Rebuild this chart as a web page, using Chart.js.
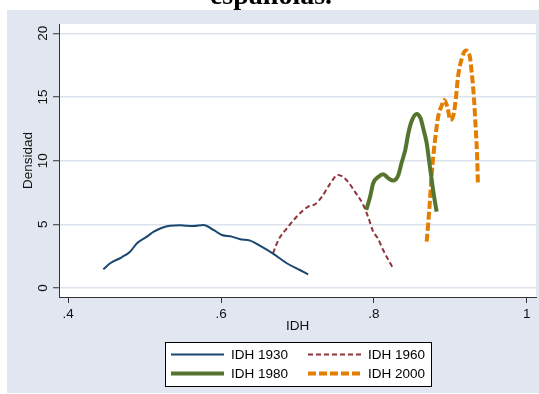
<!DOCTYPE html>
<html>
<head>
<meta charset="utf-8">
<script src="https://cdn.jsdelivr.net/npm/chart.js@4.4.1/dist/chart.umd.min.js"></script>
<style>
  body { margin: 0; background: #fff; }
  #myChart { display: block; }
</style>
</head>
<body>
<canvas id="myChart" width="539" height="394"></canvas>
<script>
// values
const idh1930x = [0.446, 0.455, 0.470, 0.481, 0.490, 0.503, 0.512, 0.522, 0.533, 0.546, 0.564, 0.577, 0.590, 0.601, 0.614, 0.625, 0.638, 0.653, 0.668, 0.686, 0.703, 0.714]
const idh1930y = [1.47, 1.94, 2.41, 2.85, 3.51, 4.03, 4.42, 4.71, 4.89, 4.92, 4.87, 4.95, 4.56, 4.16, 4.03, 3.83, 3.72, 3.24, 2.70, 1.94, 1.41, 1.07]

const idh1960x = [0.668, 0.675, 0.688, 0.701, 0.714, 0.723, 0.732, 0.743, 0.753, 0.764, 0.775, 0.786, 0.793, 0.799, 0.805, 0.812, 0.825]
const idh1960y = [2.72, 3.77, 4.82, 5.73, 6.39, 6.57, 7.17, 8.22, 8.88, 8.48, 7.57, 6.52, 5.48, 4.42, 3.90, 2.98, 1.55]

const idh1980x = [0.790, 0.795, 0.799, 0.806, 0.812, 0.819, 0.825, 0.832, 0.836, 0.841, 0.845, 0.849, 0.856, 0.861, 0.865, 0.869, 0.872, 0.875, 0.878, 0.882]
const idh1980y = [6.13, 7.17, 8.22, 8.74, 8.93, 8.61, 8.43, 8.88, 9.79, 10.84, 12.15, 13.06, 13.67, 13.33, 12.41, 11.37, 10.05, 8.74, 7.44, 5.99]

const idh2000x = [0.869, 0.871, 0.873, 0.875, 0.878, 0.881, 0.884, 0.889, 0.892, 0.896, 0.900, 0.904, 0.907, 0.910, 0.915, 0.920, 0.925, 0.928, 0.931, 0.933, 0.935, 0.936]
const idh2000y = [3.64, 5.08, 6.65, 8.48, 10.58, 12.15, 13.46, 14.38, 14.77, 14.24, 13.20, 13.59, 14.77, 16.60, 18.04, 18.64, 18.30, 16.86, 14.77, 12.67, 10.31, 8.22]

const seriesNames = ['IDH 1930', 'IDH 1960', 'IDH 1980', 'IDH 2000']
const xTicks = [0.4, 0.6, 0.8, 1]
const xTickLabels = ['.4', '.6', '.8', '1']
const yTicks = [0, 5, 10, 15, 20]
const yTickLabels = ['0', '5', '10', '15', '20']

const panelColor = '#e1e6f0'
const font = '"Liberation Sans", Arial, sans-serif'

function pts(xs, ys) {
  return xs.map((x, i) => ({ x: x, y: ys[i] }))
}

const looks = [
  { color: '#1a476f', width: 2, dash: [] },
  { color: '#90353b', width: 2, dash: [5, 3] },
  { color: '#55752f', width: 4, dash: [] },
  { color: '#e37e00', width: 4, dash: [8, 3] }
]
const allData = [pts(idh1930x, idh1930y), pts(idh1960x, idh1960y), pts(idh1980x, idh1980y), pts(idh2000x, idh2000y)]

const datasets = seriesNames.map((name, i) => ({
  label: name,
  data: allData[i],
  showLine: true,
  borderColor: looks[i].color,
  borderWidth: looks[i].width,
  borderDash: looks[i].dash,
  pointRadius: 0,
  fill: false,
  cubicInterpolationMode: 'monotone'
}))

// background panel, white plot region and the (cut-off) title
const backgroundPlugin = {
  id: 'stataBack',
  beforeDraw(chart) {
    const ctx = chart.ctx
    const a = chart.chartArea
    ctx.save()
    ctx.fillStyle = '#fff'
    ctx.fillRect(0, 0, chart.width, chart.height)
    ctx.fillStyle = panelColor
    ctx.fillRect(7, 10, chart.width - 7, chart.height - 11)
    ctx.fillStyle = '#fff'
    ctx.fillRect(a.left, a.top, a.right - a.left, a.bottom - a.top)
    ctx.fillStyle = '#000'
    ctx.font = 'bold 28px "Liberation Serif", "Times New Roman", serif'
    ctx.textAlign = 'center'
    ctx.textBaseline = 'alphabetic'
    ctx.fillText('españolas.', 271, 4)
    ctx.restore()
  }
}

// boxed legend, two columns, under the x title
const legendPlugin = {
  id: 'stataLegend',
  afterDraw(chart) {
    const ctx = chart.ctx
    const a = chart.chartArea
    const boxW = 266
    const boxH = 44
    const left = Math.round((a.left + a.right) / 2 - boxW / 2)
    const top = 342
    ctx.save()
    ctx.fillStyle = '#fff'
    ctx.fillRect(left, top, boxW, boxH)
    ctx.strokeStyle = '#000'
    ctx.lineWidth = 1
    ctx.strokeRect(left + 0.5, top + 0.5, boxW, boxH)
    ctx.font = '13.5px ' + font
    ctx.textBaseline = 'middle'
    ctx.textAlign = 'left'
    chart.data.datasets.forEach((ds, i) => {
      const col = i % 2
      const row = Math.floor(i / 2)
      const x0 = left + 6 + col * 137
      const y = top + 12.5 + row * 19
      ctx.beginPath()
      ctx.strokeStyle = ds.borderColor
      ctx.lineWidth = ds.borderWidth
      ctx.setLineDash(ds.borderDash)
      ctx.moveTo(x0, y)
      ctx.lineTo(x0 + 53, y)
      ctx.stroke()
      ctx.setLineDash([])
      ctx.fillStyle = '#000'
      ctx.fillText(ds.label, x0 + 60, y + 0.5)
    })
    ctx.restore()
  }
}

const ctx = document.getElementById('myChart')
const myChart = new Chart(ctx, {
  type: 'scatter',
  data: { datasets: datasets },
  plugins: [backgroundPlugin, legendPlugin],
  options: {
    responsive: false,
    animation: false,
    layout: { padding: { left: 7, top: 24, right: 3, bottom: 52 } },
    plugins: {
      legend: { display: false },
      tooltip: { enabled: false }
    },
    scales: {
      x: {
        type: 'linear',
        min: 0.388,
        max: 1.012,
        afterBuildTicks: (s) => { s.ticks = xTicks.map(v => ({ value: v })) },
        afterFit: (s) => { s.height = 45 },
        ticks: {
          padding: 3,
          color: '#111',
          font: { family: font, size: 13.5 },
          maxRotation: 0,
          callback: (v) => xTickLabels[xTicks.indexOf(v)]
        },
        grid: { drawOnChartArea: false, drawTicks: true, tickLength: 6, tickColor: '#333' },
        border: { color: '#333', width: 1 },
        title: { display: true, text: 'IDH', color: '#111', font: { family: font, size: 13.5 }, padding: { top: 0, bottom: 8 } }
      },
      y: {
        type: 'linear',
        min: -0.71,
        max: 20.73,
        afterBuildTicks: (s) => { s.ticks = yTicks.map(v => ({ value: v })) },
        afterFit: (s) => { s.width = 52 },
        ticks: {
          padding: 2,
          minRotation: 90,
          maxRotation: 90,
          crossAlign: 'center',
          color: '#111',
          font: { family: font, size: 13.5 },
          callback: (v) => yTickLabels[yTicks.indexOf(v)]
        },
        grid: { color: '#dde3ed', lineWidth: 1.5, drawTicks: true, tickLength: 6, tickColor: '#333', tickWidth: 1 },
        border: { color: '#333', width: 1 },
        title: { display: true, text: 'Densidad', color: '#111', font: { family: font, size: 13.5 }, padding: { top: 13, bottom: 0 } }
      }
    }
  }
})
</script>
</body>
</html>
